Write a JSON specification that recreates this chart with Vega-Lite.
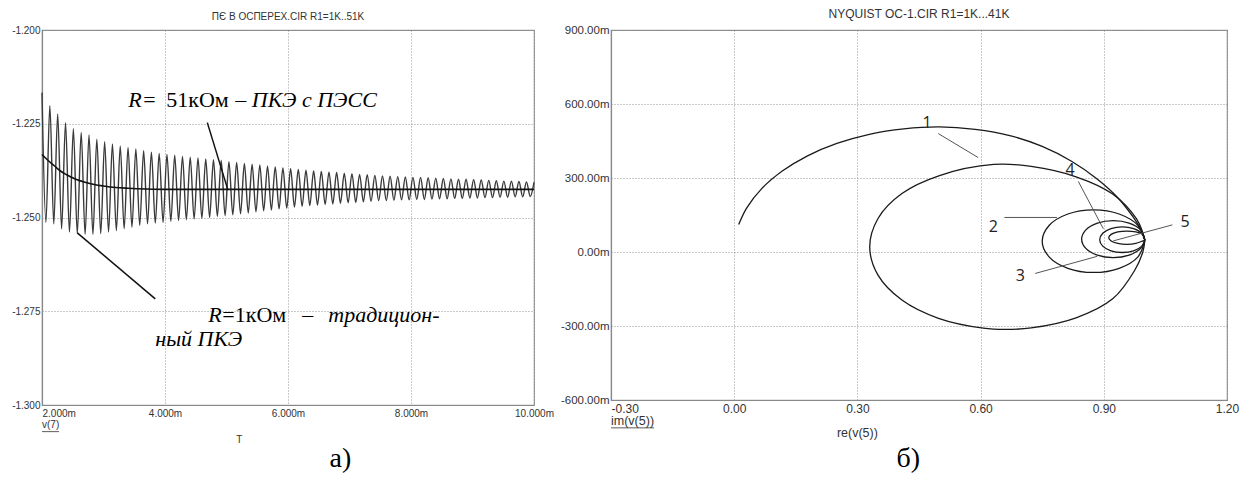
{
  "$schema": "https://vega.github.io/schema/vega-lite/v6.json",
  "background": "white",
  "padding": {"left": 11, "top": 7, "right": 0, "bottom": 0},
  "spacing": 4,
  "config": {
    "view": {"stroke": "#999", "strokeWidth": 1.2},
    "axis": {"grid": true, "gridColor": "#777", "gridDash": [1, 2], "gridWidth": 0.8, "domainColor": "#888", "domainWidth": 1.2, "ticks": false, "labelColor": "#333", "labelFont": "Liberation Sans"},
    "title": {"font": "Liberation Sans", "fontWeight": "normal", "color": "#333"}
  },
  "datasets": {
    "osc": [
      {"t": 2.0, "v": -1.2167}, {"t": 2.0638, "v": -1.2513}, {"t": 2.1276, "v": -1.2202}, {"t": 2.1914, "v": -1.2517},
      {"t": 2.2551, "v": -1.2224}, {"t": 2.3189, "v": -1.2530}, {"t": 2.3826, "v": -1.2247}, {"t": 2.4463, "v": -1.2539},
      {"t": 2.5099, "v": -1.2263}, {"t": 2.5736, "v": -1.2543}, {"t": 2.6372, "v": -1.2273}, {"t": 2.7008, "v": -1.2545},
      {"t": 2.7644, "v": -1.2280}, {"t": 2.8280, "v": -1.2545}, {"t": 2.8915, "v": -1.2291}, {"t": 2.9550, "v": -1.2543},
      {"t": 3.0185, "v": -1.2298}, {"t": 3.0820, "v": -1.2539}, {"t": 3.1454, "v": -1.2304}, {"t": 3.2089, "v": -1.2535},
      {"t": 3.2723, "v": -1.2309}, {"t": 3.3357, "v": -1.2530}, {"t": 3.3991, "v": -1.2313}, {"t": 3.4625, "v": -1.2526},
      {"t": 3.5258, "v": -1.2317}, {"t": 3.5891, "v": -1.2521}, {"t": 3.6524, "v": -1.2322}, {"t": 3.7157, "v": -1.2517},
      {"t": 3.7789, "v": -1.2326}, {"t": 3.8421, "v": -1.2515}, {"t": 3.9053, "v": -1.2329}, {"t": 3.9685, "v": -1.2513},
      {"t": 4.0317, "v": -1.2332}, {"t": 4.0949, "v": -1.2510}, {"t": 4.1580, "v": -1.2334}, {"t": 4.2211, "v": -1.2508},
      {"t": 4.2842, "v": -1.2337}, {"t": 4.3473, "v": -1.2506}, {"t": 4.4103, "v": -1.2339}, {"t": 4.4733, "v": -1.2504},
      {"t": 4.5363, "v": -1.2341}, {"t": 4.5993, "v": -1.2502}, {"t": 4.6623, "v": -1.2344}, {"t": 4.7252, "v": -1.2500},
      {"t": 4.7881, "v": -1.2346}, {"t": 4.8510, "v": -1.2497}, {"t": 4.9139, "v": -1.2348}, {"t": 4.9768, "v": -1.2495},
      {"t": 5.0396, "v": -1.2351}, {"t": 5.1024, "v": -1.2493}, {"t": 5.1652, "v": -1.2353}, {"t": 5.2280, "v": -1.2490},
      {"t": 5.2908, "v": -1.2356}, {"t": 5.3535, "v": -1.2488}, {"t": 5.4162, "v": -1.2358}, {"t": 5.4789, "v": -1.2485},
      {"t": 5.5416, "v": -1.2360}, {"t": 5.6043, "v": -1.2482}, {"t": 5.6669, "v": -1.2363}, {"t": 5.7295, "v": -1.2480},
      {"t": 5.7921, "v": -1.2365}, {"t": 5.8547, "v": -1.2477}, {"t": 5.9172, "v": -1.2368}, {"t": 5.9797, "v": -1.2475},
      {"t": 6.0422, "v": -1.2370}, {"t": 6.1047, "v": -1.2472}, {"t": 6.1672, "v": -1.2372}, {"t": 6.2297, "v": -1.2470},
      {"t": 6.2921, "v": -1.2374}, {"t": 6.3545, "v": -1.2468}, {"t": 6.4169, "v": -1.2376}, {"t": 6.4793, "v": -1.2467},
      {"t": 6.5416, "v": -1.2377}, {"t": 6.6039, "v": -1.2465}, {"t": 6.6662, "v": -1.2379}, {"t": 6.7285, "v": -1.2464},
      {"t": 6.7907, "v": -1.2380}, {"t": 6.8530, "v": -1.2462}, {"t": 6.9152, "v": -1.2382}, {"t": 6.9774, "v": -1.2461},
      {"t": 7.0396, "v": -1.2383}, {"t": 7.1018, "v": -1.2460}, {"t": 7.1639, "v": -1.2385}, {"t": 7.2260, "v": -1.2458},
      {"t": 7.2881, "v": -1.2386}, {"t": 7.3502, "v": -1.2457}, {"t": 7.4122, "v": -1.2388}, {"t": 7.4743, "v": -1.2455},
      {"t": 7.5363, "v": -1.2389}, {"t": 7.5983, "v": -1.2455}, {"t": 7.6602, "v": -1.2390}, {"t": 7.7222, "v": -1.2454},
      {"t": 7.7841, "v": -1.2391}, {"t": 7.8460, "v": -1.2453}, {"t": 7.9079, "v": -1.2392}, {"t": 7.9698, "v": -1.2453},
      {"t": 8.0316, "v": -1.2393}, {"t": 8.0935, "v": -1.2452}, {"t": 8.1553, "v": -1.2393}, {"t": 8.2171, "v": -1.2452},
      {"t": 8.2788, "v": -1.2394}, {"t": 8.3406, "v": -1.2451}, {"t": 8.4023, "v": -1.2395}, {"t": 8.4640, "v": -1.2450},
      {"t": 8.5257, "v": -1.2396}, {"t": 8.5874, "v": -1.2450}, {"t": 8.6490, "v": -1.2397}, {"t": 8.7106, "v": -1.2449},
      {"t": 8.7722, "v": -1.2398}, {"t": 8.8338, "v": -1.2449}, {"t": 8.8953, "v": -1.2398}, {"t": 8.9569, "v": -1.2448},
      {"t": 9.0184, "v": -1.2399}, {"t": 9.0799, "v": -1.2448}, {"t": 9.1414, "v": -1.2400}, {"t": 9.2029, "v": -1.2447},
      {"t": 9.2643, "v": -1.2401}, {"t": 9.3257, "v": -1.2447}, {"t": 9.3871, "v": -1.2402}, {"t": 9.4485, "v": -1.2446},
      {"t": 9.5098, "v": -1.2403}, {"t": 9.5711, "v": -1.2446}, {"t": 9.6324, "v": -1.2403}, {"t": 9.6937, "v": -1.2445},
      {"t": 9.7550, "v": -1.2404}, {"t": 9.8162, "v": -1.2445}, {"t": 9.8774, "v": -1.2405}, {"t": 9.9386, "v": -1.2444},
      {"t": 10.0, "v": -1.2406}
    ],
    "smooth": [
      {"t": 2.0, "v": -1.2332}, {"t": 2.1, "v": -1.2348}, {"t": 2.2, "v": -1.2362}, {"t": 2.3, "v": -1.2376},
      {"t": 2.4, "v": -1.2386}, {"t": 2.55, "v": -1.2398}, {"t": 2.7, "v": -1.2406}, {"t": 2.85, "v": -1.2412},
      {"t": 3.0, "v": -1.2416}, {"t": 3.2, "v": -1.2420}, {"t": 3.4, "v": -1.2422}, {"t": 3.7, "v": -1.2424},
      {"t": 4.0, "v": -1.2425}, {"t": 5.0, "v": -1.2425}, {"t": 6.0, "v": -1.2425}, {"t": 7.0, "v": -1.2425},
      {"t": 8.0, "v": -1.2425}, {"t": 9.0, "v": -1.2425}, {"t": 10.0, "v": -1.2425}
    ],
    "nyq": [
      {"c": "a", "i": 0, "x": 0.0109, "y": 111}, {"c": "a", "i": 1, "x": 0.0302, "y": 178}, {"c": "a", "i": 2, "x": 0.067, "y": 257},
      {"c": "a", "i": 3, "x": 0.117, "y": 328}, {"c": "a", "i": 4, "x": 0.1786, "y": 390}, {"c": "a", "i": 5, "x": 0.25, "y": 440},
      {"c": "a", "i": 6, "x": 0.329, "y": 477}, {"c": "a", "i": 7, "x": 0.4132, "y": 499}, {"c": "a", "i": 8, "x": 0.5, "y": 507},
      {"c": "a", "i": 9, "x": 0.5868, "y": 497}, {"c": "a", "i": 10, "x": 0.671, "y": 472}, {"c": "a", "i": 11, "x": 0.75, "y": 428},
      {"c": "a", "i": 12, "x": 0.8214, "y": 368}, {"c": "a", "i": 13, "x": 0.883, "y": 297}, {"c": "a", "i": 14, "x": 0.933, "y": 222},
      {"c": "a", "i": 15, "x": 0.97, "y": 145}, {"c": "a", "i": 16, "x": 0.989, "y": 95}, {"c": "a", "i": 17, "x": 1.0, "y": 48},
      {"c": "b", "i": 0, "x": 1.0, "y": 48}, {"c": "b", "i": 1, "x": 0.995, "y": 78}, {"c": "b", "i": 2, "x": 0.9798, "y": 134},
      {"c": "b", "i": 3, "x": 0.9216, "y": 235}, {"c": "b", "i": 4, "x": 0.8325, "y": 305}, {"c": "b", "i": 5, "x": 0.7232, "y": 347},
      {"c": "b", "i": 6, "x": 0.632, "y": 355}, {"c": "b", "i": 7, "x": 0.5, "y": 310}, {"c": "b", "i": 8, "x": 0.4084, "y": 237},
      {"c": "b", "i": 9, "x": 0.3502, "y": 136}, {"c": "b", "i": 10, "x": 0.33, "y": 20}, {"c": "b", "i": 11, "x": 0.3502, "y": -94},
      {"c": "b", "i": 12, "x": 0.4084, "y": -195}, {"c": "b", "i": 13, "x": 0.4975, "y": -269}, {"c": "b", "i": 14, "x": 0.6068, "y": -309},
      {"c": "b", "i": 15, "x": 0.66, "y": -314}, {"c": "b", "i": 16, "x": 0.7232, "y": -308}, {"c": "b", "i": 17, "x": 0.8325, "y": -267},
      {"c": "b", "i": 18, "x": 0.9216, "y": -190}, {"c": "b", "i": 19, "x": 0.975, "y": -75}, {"c": "b", "i": 20, "x": 0.995, "y": 0},
      {"c": "b", "i": 21, "x": 1.0, "y": 48},
      {"c": "c", "i": 0, "x": 1.0, "y": 48}, {"c": "c", "i": 1, "x": 0.9833, "y": 107.5}, {"c": "c", "i": 2, "x": 0.9375, "y": 154},
      {"c": "c", "i": 3, "x": 0.875, "y": 171}, {"c": "c", "i": 4, "x": 0.8125, "y": 154}, {"c": "c", "i": 5, "x": 0.7667, "y": 107.5},
      {"c": "c", "i": 6, "x": 0.75, "y": 44}, {"c": "c", "i": 7, "x": 0.7667, "y": -19.5}, {"c": "c", "i": 8, "x": 0.8125, "y": -66},
      {"c": "c", "i": 9, "x": 0.875, "y": -83}, {"c": "c", "i": 10, "x": 0.9375, "y": -66}, {"c": "c", "i": 11, "x": 0.9833, "y": -19.5},
      {"c": "c", "i": 12, "x": 1.0, "y": 48},
      {"c": "d", "i": 0, "x": 1.0, "y": 48}, {"c": "d", "i": 1, "x": 0.9897, "y": 89.5}, {"c": "d", "i": 2, "x": 0.9615, "y": 117},
      {"c": "d", "i": 3, "x": 0.923, "y": 127}, {"c": "d", "i": 4, "x": 0.8845, "y": 117}, {"c": "d", "i": 5, "x": 0.8563, "y": 89.5},
      {"c": "d", "i": 6, "x": 0.846, "y": 52}, {"c": "d", "i": 7, "x": 0.8563, "y": 14.5}, {"c": "d", "i": 8, "x": 0.8845, "y": -13},
      {"c": "d", "i": 9, "x": 0.923, "y": -23}, {"c": "d", "i": 10, "x": 0.9615, "y": -13}, {"c": "d", "i": 11, "x": 0.9897, "y": 14.5},
      {"c": "d", "i": 12, "x": 1.0, "y": 48},
      {"c": "e", "i": 0, "x": 1.0, "y": 48}, {"c": "e", "i": 1, "x": 0.9926, "y": 76}, {"c": "e", "i": 2, "x": 0.9725, "y": 95},
      {"c": "e", "i": 3, "x": 0.945, "y": 102}, {"c": "e", "i": 4, "x": 0.9175, "y": 95}, {"c": "e", "i": 5, "x": 0.8974, "y": 76},
      {"c": "e", "i": 6, "x": 0.89, "y": 50}, {"c": "e", "i": 7, "x": 0.8974, "y": 24}, {"c": "e", "i": 8, "x": 0.9175, "y": 5},
      {"c": "e", "i": 9, "x": 0.945, "y": -2}, {"c": "e", "i": 10, "x": 0.9725, "y": 5}, {"c": "e", "i": 11, "x": 0.9926, "y": 24},
      {"c": "e", "i": 12, "x": 1.0, "y": 48},
      {"c": "f", "i": 0, "x": 1.0, "y": 48}, {"c": "f", "i": 1, "x": 0.9941, "y": 71.5}, {"c": "f", "i": 2, "x": 0.978, "y": 81.4},
      {"c": "f", "i": 3, "x": 0.956, "y": 85}, {"c": "f", "i": 4, "x": 0.934, "y": 81.4}, {"c": "f", "i": 5, "x": 0.9179, "y": 71.5},
      {"c": "f", "i": 6, "x": 0.912, "y": 58}, {"c": "f", "i": 7, "x": 0.9179, "y": 44.5}, {"c": "f", "i": 8, "x": 0.934, "y": 34.6},
      {"c": "f", "i": 9, "x": 0.956, "y": 31}, {"c": "f", "i": 10, "x": 0.978, "y": 34.6}, {"c": "f", "i": 11, "x": 0.9941, "y": 44.5},
      {"c": "f", "i": 12, "x": 1.0, "y": 48}
    ]
  },
  "hconcat": [
    {
      "width": 492,
      "height": 375,
      "title": {"text": "ПЄ В ОСПЕРЕХ.CIR R1=1K..51K", "fontSize": 10, "offset": 3},
      "layer": [
        {
          "data": {"name": "osc"},
          "mark": {"type": "line", "interpolate": "monotone", "color": "#3a3a3a", "strokeWidth": 1.4},
          "encoding": {
            "x": {"field": "t", "type": "quantitative", "scale": {"domain": [2, 10], "nice": false, "zero": false},
              "axis": {"title": null, "values": [2, 4, 6, 8, 10], "labelFontSize": 10, "labelPadding": 3,
                "labelExpr": "format(datum.value, '.3f') + 'm'",
                "labelAlign": {"condition": {"test": "datum.value < 2.5", "value": "left"}, "value": "center"}}},
            "y": {"field": "v", "type": "quantitative", "scale": {"domain": [-1.3, -1.2], "nice": false, "zero": false},
              "axis": {"title": null, "values": [-1.3, -1.275, -1.25, -1.225, -1.2], "labelFontSize": 10, "labelPadding": 2,
                "labelExpr": "(datum.value < 0 ? '-' : '') + format(abs(datum.value), '.3f')"}}
          }
        },
        {
          "data": {"name": "smooth"},
          "mark": {"type": "line", "interpolate": "monotone", "color": "#111", "strokeWidth": 1.6},
          "encoding": {"x": {"field": "t", "type": "quantitative"}, "y": {"field": "v", "type": "quantitative"}}
        },
        {
          "data": {"values": [
            {"x1": 4.688, "y1": -1.2247, "x2": 5.024, "y2": -1.2427},
            {"x1": 2.574, "y1": -1.2541, "x2": 3.842, "y2": -1.2717}
          ]},
          "mark": {"type": "rule", "color": "#111", "strokeWidth": 1.5},
          "encoding": {"x": {"field": "x1", "type": "quantitative"}, "x2": {"field": "x2"}, "y": {"field": "y1", "type": "quantitative"}, "y2": {"field": "y2"}}
        },
        {
          "data": {"values": [
            {"x": 3.403, "y": -1.2205, "s": "R"},
            {"x": 5.143, "y": -1.2205, "s": "– ПКЭ с ПЭСС"},
            {"x": 4.704, "y": -1.2779, "s": "R"},
            {"x": 6.656, "y": -1.2779, "s": "традицион-"},
            {"x": 3.842, "y": -1.2843, "s": "ный ПКЭ"}
          ]},
          "mark": {"type": "text", "font": "Liberation Serif", "fontStyle": "italic", "fontSize": 22, "align": "left", "baseline": "alphabetic", "color": "#000"},
          "encoding": {"x": {"field": "x", "type": "quantitative"}, "y": {"field": "y", "type": "quantitative"}, "text": {"field": "s"}}
        },
        {
          "data": {"values": [
            {"x": 3.647, "y": -1.2205, "s": "="},
            {"x": 4.021, "y": -1.2205, "s": "51кОм"},
            {"x": 4.932, "y": -1.2779, "s": "=1кОм"},
            {"x": 6.233, "y": -1.2779, "s": "–"}
          ]},
          "mark": {"type": "text", "font": "Liberation Serif", "fontSize": 22, "align": "left", "baseline": "alphabetic", "color": "#000"},
          "encoding": {"x": {"field": "x", "type": "quantitative"}, "y": {"field": "y", "type": "quantitative"}, "text": {"field": "s"}}
        },
        {
          "data": {"values": [{"x": 2.0, "y": -1.3061, "s": "v(7)"}]},
          "mark": {"type": "text", "font": "Liberation Sans", "fontSize": 10, "align": "left", "baseline": "alphabetic", "color": "#333"},
          "encoding": {"x": {"field": "x", "type": "quantitative"}, "y": {"field": "y", "type": "quantitative"}, "text": {"field": "s"}}
        },
        {
          "data": {"values": [{"x": 5.208, "y": -1.3101, "s": "T"}]},
          "mark": {"type": "text", "font": "Liberation Sans", "fontSize": 10, "align": "center", "baseline": "alphabetic", "color": "#333"},
          "encoding": {"x": {"field": "x", "type": "quantitative"}, "y": {"field": "y", "type": "quantitative"}, "text": {"field": "s"}}
        },
        {
          "data": {"values": [{"x1": 2.0, "x2": 2.276, "y": -1.3071}]},
          "mark": {"type": "rule", "color": "#333", "strokeWidth": 0.8},
          "encoding": {"x": {"field": "x1", "type": "quantitative"}, "x2": {"field": "x2"}, "y": {"field": "y", "type": "quantitative"}}
        },
        {
          "data": {"values": [{"x": 6.853, "y": -1.3165, "s": "а)"}]},
          "mark": {"type": "text", "font": "Liberation Serif", "fontSize": 28, "align": "center", "baseline": "alphabetic", "color": "#000"},
          "encoding": {"x": {"field": "x", "type": "quantitative"}, "y": {"field": "y", "type": "quantitative"}, "text": {"field": "s"}}
        }
      ]
    },
    {
      "width": 616,
      "height": 370,
      "title": {"text": "NYQUIST OC-1.CIR R1=1K...41K", "fontSize": 12, "offset": 3},
      "layer": [
        {
          "data": {"name": "nyq"},
          "mark": {"type": "line", "interpolate": "catmull-rom", "color": "#1a1a1a", "strokeWidth": 1.3},
          "encoding": {
            "x": {"field": "x", "type": "quantitative", "scale": {"domain": [-0.3, 1.2], "nice": false, "zero": false},
              "axis": {"title": null, "values": [-0.3, 0, 0.3, 0.6, 0.9, 1.2], "labelFontSize": 12, "labelPadding": 3,
                "labelExpr": "(datum.value < 0 ? '-' : '') + format(abs(datum.value), '.2f')",
                "labelAlign": {"condition": {"test": "datum.value < -0.25", "value": "left"}, "value": "center"}}},
            "y": {"field": "y", "type": "quantitative", "scale": {"domain": [-600, 900], "nice": false, "zero": false},
              "axis": {"title": null, "values": [-600, -300, 0, 300, 600, 900], "labelFontSize": 11.5, "labelPadding": 2,
                "labelExpr": "(datum.value < 0 ? '-' : '') + format(abs(datum.value), '.2f') + 'm'"}},
            "order": {"field": "i", "type": "quantitative"},
            "detail": {"field": "c"}
          }
        },
        {
          "data": {"values": [
            {"x1": 0.497, "y1": 480, "x2": 0.594, "y2": 383},
            {"x1": 0.838, "y1": 286, "x2": 0.899, "y2": 94},
            {"x1": 0.658, "y1": 140, "x2": 0.786, "y2": 140},
            {"x1": 1.067, "y1": 110, "x2": 0.923, "y2": 45},
            {"x1": 0.733, "y1": -87, "x2": 0.884, "y2": -17.5}
          ]},
          "mark": {"type": "rule", "color": "#555", "strokeWidth": 1},
          "encoding": {"x": {"field": "x1", "type": "quantitative"}, "x2": {"field": "x2"}, "y": {"field": "y1", "type": "quantitative"}, "y2": {"field": "y2"}}
        },
        {
          "data": {"values": [
            {"x": 0.4695, "y": 522, "s": "1"},
            {"x": 0.818, "y": 332, "s": "4"},
            {"x": 0.631, "y": 103, "s": "2"},
            {"x": 1.098, "y": 123, "s": "5"},
            {"x": 0.697, "y": -97, "s": "3"}
          ]},
          "mark": {"type": "text", "font": "Open Sans", "fontSize": 16, "align": "center", "baseline": "middle", "color": "#222"},
          "encoding": {"x": {"field": "x", "type": "quantitative"}, "y": {"field": "y", "type": "quantitative"}, "text": {"field": "s"}}
        },
        {
          "data": {"values": [{"x": -0.3, "y": -701, "s": "im(v(5))"}]},
          "mark": {"type": "text", "font": "Liberation Sans", "fontSize": 12.5, "align": "left", "baseline": "alphabetic", "color": "#333"},
          "encoding": {"x": {"field": "x", "type": "quantitative"}, "y": {"field": "y", "type": "quantitative"}, "text": {"field": "s"}}
        },
        {
          "data": {"values": [{"x1": -0.3, "x2": -0.195, "y": -713}]},
          "mark": {"type": "rule", "color": "#333", "strokeWidth": 0.8},
          "encoding": {"x": {"field": "x1", "type": "quantitative"}, "x2": {"field": "x2"}, "y": {"field": "y", "type": "quantitative"}}
        },
        {
          "data": {"values": [{"x": 0.30, "y": -750, "s": "re(v(5))"}]},
          "mark": {"type": "text", "font": "Liberation Sans", "fontSize": 12.5, "align": "center", "baseline": "alphabetic", "color": "#333"},
          "encoding": {"x": {"field": "x", "type": "quantitative"}, "y": {"field": "y", "type": "quantitative"}, "text": {"field": "s"}}
        },
        {
          "data": {"values": [{"x": 0.424, "y": -872, "s": "б)"}]},
          "mark": {"type": "text", "font": "Liberation Serif", "fontSize": 28, "align": "center", "baseline": "alphabetic", "color": "#000"},
          "encoding": {"x": {"field": "x", "type": "quantitative"}, "y": {"field": "y", "type": "quantitative"}, "text": {"field": "s"}}
        }
      ]
    }
  ]
}
